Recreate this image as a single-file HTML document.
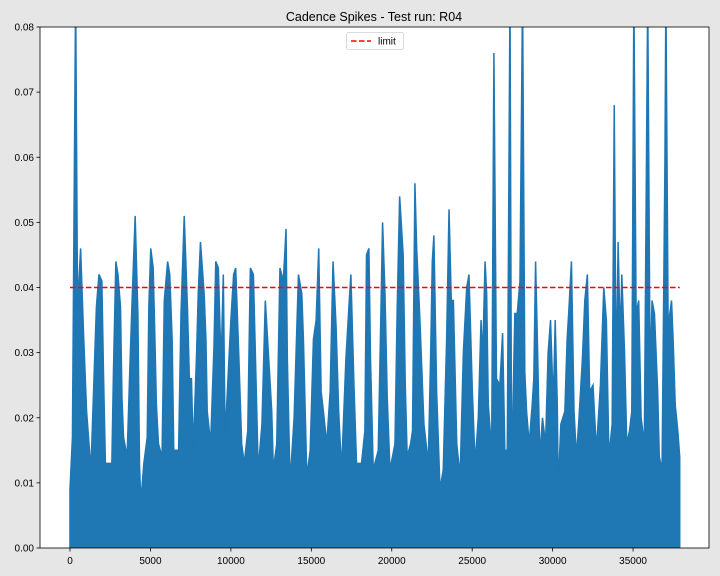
<!DOCTYPE html>
<html><head><meta charset="utf-8"><style>
html,body{margin:0;padding:0;background:#e6e6e6;}
svg{display:block;font-family:"Liberation Sans","DejaVu Sans",sans-serif;}
</style></head><body>
<svg id="chart" width="720" height="576">
<rect x="0" y="0" width="720" height="576" fill="#e6e6e6"/>
<text x="374" y="21" text-anchor="middle" font-size="12.5" fill="#000">Cadence Spikes - Test run: R04</text>
<defs><clipPath id="plotclip"><rect x="40" y="27" width="669" height="521"/></clipPath></defs>
<rect x="40" y="27" width="669" height="521" fill="#fff"/>
<g id="series" clip-path="url(#plotclip)"></g>
<g id="axes"></g>
</svg>
<script>
const sampleX = [0,150,350,470,660,840,1030,1300,1640,1800,1980,2080,2200,2600,2700,2850,2980,3140,3230,3330,3550,3700,3860,4050,4220,4320,4400,4590,4800,4900,5020,5170,5270,5370,5500,5720,5860,6070,6200,6350,6450,6750,6900,7100,7300,7420,7550,7660,7870,7970,8110,8340,8450,8530,8740,8950,9060,9220,9390,9530,9640,9780,10000,10170,10300,10500,10670,10830,11050,11210,11400,11500,11700,11930,12140,12330,12540,12640,12850,13050,13260,13430,13510,13680,13930,14200,14410,14510,14720,14930,15130,15300,15460,15610,15750,15960,16170,16350,16540,16700,16880,17150,17360,17460,17650,17810,18120,18330,18430,18580,18680,18850,19160,19310,19430,19580,19720,19890,20200,20340,20490,20710,20840,20960,21170,21290,21440,21550,21750,22000,22270,22420,22520,22620,22790,23000,23200,23410,23560,23700,23830,24040,24250,24450,24660,24800,25010,25180,25380,25550,25650,25800,25900,26000,26210,26350,26510,26720,26890,27030,27180,27350,27450,27650,27800,27970,28130,28270,28380,28540,28730,28830,28940,29060,29200,29370,29560,29720,29870,30040,30160,30290,30350,30510,30760,30900,31020,31170,31330,31480,31640,31850,32000,32160,32300,32510,32720,32970,33180,33340,33500,33700,33830,33950,34070,34200,34300,34470,34610,34780,34920,35050,35190,35350,35500,35700,35910,36060,36180,36330,36430,36530,36630,36800,36980,37040,37180,37390,37490,37620,37780,37900];
const peakValues = [0.009,0.017,0.085,0.037,0.046,0.033,0.021,0.012,0.037,0.042,0.041,0.027,0.013,0.013,0.027,0.044,0.042,0.037,0.023,0.017,0.014,0.026,0.038,0.051,0.036,0.013,0.007,0.013,0.017,0.037,0.046,0.043,0.033,0.022,0.016,0.014,0.038,0.044,0.042,0.032,0.015,0.015,0.036,0.051,0.037,0.026,0.026,0.015,0.030,0.039,0.047,0.039,0.032,0.021,0.016,0.031,0.044,0.043,0.028,0.042,0.017,0.024,0.035,0.042,0.043,0.029,0.016,0.013,0.018,0.043,0.042,0.032,0.012,0.019,0.038,0.030,0.021,0.012,0.016,0.043,0.041,0.049,0.029,0.010,0.020,0.042,0.039,0.032,0.011,0.015,0.032,0.035,0.046,0.024,0.021,0.016,0.024,0.044,0.034,0.021,0.012,0.029,0.038,0.042,0.025,0.013,0.013,0.018,0.045,0.046,0.029,0.012,0.015,0.034,0.050,0.039,0.023,0.012,0.016,0.037,0.054,0.045,0.025,0.014,0.016,0.018,0.056,0.046,0.035,0.019,0.013,0.030,0.044,0.048,0.024,0.009,0.012,0.032,0.052,0.038,0.038,0.016,0.011,0.030,0.040,0.042,0.024,0.013,0.020,0.035,0.029,0.044,0.039,0.022,0.015,0.076,0.026,0.025,0.033,0.015,0.015,0.085,0.011,0.036,0.036,0.041,0.085,0.027,0.021,0.016,0.022,0.026,0.044,0.031,0.014,0.020,0.016,0.030,0.035,0.022,0.035,0.022,0.009,0.019,0.021,0.032,0.037,0.044,0.021,0.014,0.020,0.029,0.038,0.042,0.024,0.025,0.015,0.025,0.040,0.035,0.014,0.019,0.068,0.025,0.047,0.032,0.042,0.030,0.016,0.018,0.021,0.085,0.036,0.038,0.020,0.016,0.085,0.026,0.038,0.036,0.030,0.024,0.014,0.012,0.059,0.085,0.034,0.038,0.032,0.022,0.018,0.014];
const limitValue = 0.04;
const yTicks = [0,0.01,0.02,0.03,0.04,0.05,0.06,0.07,0.08];
const xTicks = [0,5000,10000,15000,20000,25000,30000,35000];

const NS='http://www.w3.org/2000/svg';
const L=40,R=709,T=27,B=548;
const xMin=-1865,xMax=39720,yMin=0,yMax=0.08;
function sx(v){return L+(v-xMin)/(xMax-xMin)*(R-L);}
function sy(v){return B-(v-yMin)/(yMax-yMin)*(B-T);}
function mk(tag,attrs,parent){const e=document.createElementNS(NS,tag);for(const k in attrs)e.setAttribute(k,attrs[k]);parent.appendChild(e);return e;}

const series=document.getElementById('series');
let d='M'+sx(sampleX[0])+','+sy(0);
for(let i=0;i<sampleX.length;i++){d+=' L'+sx(sampleX[i]).toFixed(2)+','+sy(peakValues[i]).toFixed(2);}
d+=' L'+sx(sampleX[sampleX.length-1])+','+sy(0)+' Z';
const area=mk('path',{d:d,fill:'#1f77b4',stroke:'#1f77b4','stroke-width':'1.5','stroke-linejoin':'miter'},series);


const lim=mk('line',{x1:sx(sampleX[0]),x2:sx(sampleX[sampleX.length-1]),y1:sy(limitValue),y2:sy(limitValue),stroke:'#ff0000','stroke-width':'1.5','stroke-dasharray':'5.5,2.5'},series);



const axes=document.getElementById('axes');
const frame=mk('rect',{x:L,y:T,width:R-L,height:B-T,fill:'none',stroke:'#000','stroke-width':'0.8'},axes);


yTicks.forEach(v=>{
  const y=sy(v);
  const t=mk('line',{x1:L-3.5,x2:L,y1:y,y2:y,stroke:'#000','stroke-width':'0.8'},axes);
  
  
  const lb=mk('text',{x:L-6,y:y+3.5,'text-anchor':'end','font-size':'10',fill:'#000'},axes);
  lb.textContent=v.toFixed(2);
  
  
});
xTicks.forEach(v=>{
  const x=sx(v);
  const t=mk('line',{x1:x,x2:x,y1:B,y2:B+3.5,stroke:'#000','stroke-width':'0.8'},axes);
  
  
  const lb=mk('text',{x:x,y:B+16,'text-anchor':'middle','font-size':'10',fill:'#000'},axes);
  lb.textContent=String(v);
  
  
});
const lg=mk('g',{},axes);


mk('rect',{x:346.5,y:32.5,width:57,height:17,rx:2,fill:'#fff',stroke:'#d0d0d0','stroke-width':'0.8'},lg);
const ll=mk('line',{x1:351,x2:371,y1:41,y2:41,stroke:'#ff0000','stroke-width':'1.5','stroke-dasharray':'5.5,2.5'},lg);


const lt=mk('text',{x:378,y:44.5,'font-size':'10',fill:'#000'},lg);
lt.textContent='limit';


</script>
</body></html>
